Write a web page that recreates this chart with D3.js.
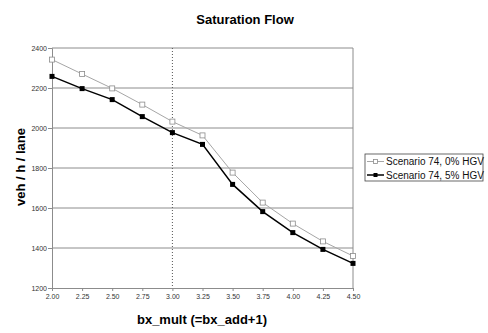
<!DOCTYPE html>
<html>
<head>
<meta charset="utf-8">
<script src="https://cdn.jsdelivr.net/npm/d3@7"></script>
<style>
  body { margin: 0; background: white; }
  text { font-family: "Liberation Sans", Arial, sans-serif; }
</style>
</head>
<body>
<div id="container"></div>
<script>
// x values (bx_mult)
let xValues = [2.00, 2.25, 2.50, 2.75, 3.00, 3.25, 3.50, 3.75, 4.00, 4.25, 4.50];
// saturation flow, veh/h/lane
let hgv0 = [2342, 2270, 2198, 2117, 2032, 1963, 1777, 1627, 1522, 1433, 1360];
let hgv5 = [2258, 2197, 2142, 2057, 1977, 1918, 1718, 1582, 1477, 1393, 1323];
let seriesNames = ["Scenario 74, 0% HGV", "Scenario 74, 5% HGV"];
let yTicks = [1200, 1400, 1600, 1800, 2000, 2200, 2400];
let markerLine = 3.00;

let w = 488;
let h = 333;
let plotLeft = 52, plotRight = 353, plotTop = 48, plotBottom = 288;

let viz = d3.select("#container")
  .append("svg")
  .attr("width", w)
  .attr("height", h)
  .style("background-color", "white");

let xScale = d3.scaleLinear().domain([2.0, 4.5]).range([plotLeft, plotRight]);
let yScale = d3.scaleLinear().domain([1200, 2400]).range([plotBottom, plotTop]);

// gridlines
viz.append("g")
  .selectAll("line")
  .data(yTicks.slice(1))
  .enter()
  .append("line")
  .attr("x1", plotLeft)
  .attr("x2", plotRight)
  .attr("y1", d => yScale(d))
  .attr("y2", d => yScale(d))
  .attr("stroke", "#8c8c8c")
  .attr("stroke-width", 1);

// right border
viz.append("line")
  .attr("x1", plotRight).attr("x2", plotRight)
  .attr("y1", plotTop).attr("y2", plotBottom)
  .attr("stroke", "#8c8c8c");

// dotted line at 3.00
viz.append("line")
  .attr("x1", xScale(markerLine)).attr("x2", xScale(markerLine))
  .attr("y1", plotTop).attr("y2", plotBottom)
  .attr("stroke", "#555")
  .attr("stroke-dasharray", "1,2");

// axes
let yAxis = d3.axisLeft(yScale).tickValues(yTicks).tickSize(4).tickFormat(d3.format("d"));
let yAxisGroup = viz.append("g").attr("transform", "translate(" + plotLeft + ",0)").call(yAxis);
let xAxis = d3.axisBottom(xScale).tickValues(xValues).tickSize(3).tickFormat(d3.format(".2f"));
let xAxisGroup = viz.append("g").attr("transform", "translate(0," + plotBottom + ")").call(xAxis);

[yAxisGroup, xAxisGroup].forEach(function (g) {
  g.select(".domain").attr("stroke", "#8c8c8c");
  g.selectAll(".tick line").attr("stroke", "#8c8c8c");
  g.selectAll(".tick text")
    .attr("font-size", "7px")
    .attr("fill", "#333")
    .attr("font-family", "Liberation Sans, Arial, sans-serif");
});
yAxisGroup.selectAll(".tick text").attr("x", -5);
xAxisGroup.selectAll(".tick text").attr("y", 6);

// lines
let line = d3.line()
  .x((d, i) => xScale(xValues[i]))
  .y(d => yScale(d));

viz.append("path")
  .datum(hgv0)
  .attr("d", line)
  .attr("fill", "none")
  .attr("stroke", "#a6a6a6")
  .attr("stroke-width", 1);

viz.append("path")
  .datum(hgv5)
  .attr("d", line)
  .attr("fill", "none")
  .attr("stroke", "black")
  .attr("stroke-width", 1.5);

viz.selectAll(".m0")
  .data(hgv0)
  .enter()
  .append("rect")
  .attr("class", "m0")
  .attr("x", (d, i) => xScale(xValues[i]) - 2.5)
  .attr("y", d => yScale(d) - 2.5)
  .attr("width", 5)
  .attr("height", 5)
  .attr("fill", "white")
  .attr("stroke", "#8c8c8c")
  .attr("stroke-width", 0.8);

viz.selectAll(".m5")
  .data(hgv5)
  .enter()
  .append("rect")
  .attr("class", "m5")
  .attr("x", (d, i) => xScale(xValues[i]) - 2.5)
  .attr("y", d => yScale(d) - 2.5)
  .attr("width", 5)
  .attr("height", 5)
  .attr("fill", "black");

// title and labels
viz.append("text")
  .text("Saturation Flow")
  .attr("x", 245)
  .attr("y", 24)
  .attr("text-anchor", "middle")
  .attr("font-size", "13px")
  .attr("font-weight", "bold");

viz.append("text")
  .text("veh / h / lane")
  .attr("transform", "translate(25,167) rotate(-90)")
  .attr("text-anchor", "middle")
  .attr("font-size", "13px")
  .attr("font-weight", "bold");

viz.append("text")
  .text("bx_mult (=bx_add+1)")
  .attr("x", 202)
  .attr("y", 324)
  .attr("text-anchor", "middle")
  .attr("font-size", "13px")
  .attr("font-weight", "bold");

// legend
let legend = viz.append("g").attr("transform", "translate(365,154)");
legend.append("rect")
  .attr("x", 0).attr("y", 0)
  .attr("width", 118).attr("height", 27)
  .attr("fill", "white")
  .attr("stroke", "#444")
  .attr("stroke-width", 0.8);

let legendStyles = [
  { stroke: "#a6a6a6", sw: 1, fill: "white", mstroke: "#8c8c8c" },
  { stroke: "black", sw: 1.5, fill: "black", mstroke: "none" }
];

seriesNames.forEach(function (name, i) {
  let y = 7.5 + i * 13.5;
  let s = legendStyles[i];
  legend.append("line")
    .attr("x1", 2).attr("x2", 19)
    .attr("y1", y).attr("y2", y)
    .attr("stroke", s.stroke)
    .attr("stroke-width", s.sw);
  legend.append("rect")
    .attr("x", 8.5).attr("y", y - 2)
    .attr("width", 4).attr("height", 4)
    .attr("fill", s.fill)
    .attr("stroke", s.mstroke)
    .attr("stroke-width", 0.8);
  legend.append("text")
    .text(name)
    .attr("x", 21)
    .attr("y", y + 3.5)
    .attr("font-size", "10px")
    .attr("fill", "#111");
});
</script>
</body>
</html>
